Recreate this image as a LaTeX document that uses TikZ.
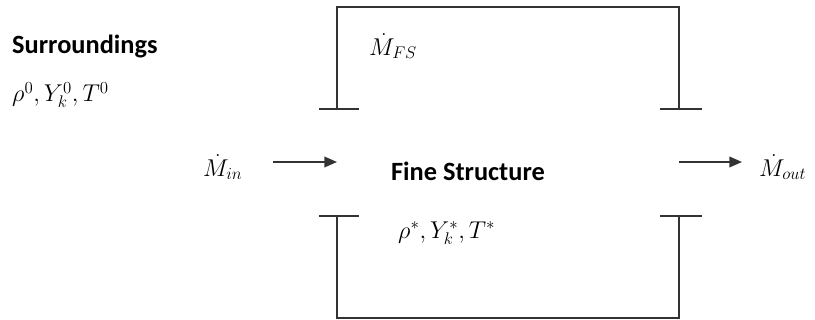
\documentclass[tikz,border=0pt]{standalone}
\usepackage{fontspec}
\setmainfont{Carlito}
\usetikzlibrary{positioning, arrows.meta}

\begin{document}
\begin{tikzpicture}[x=0.03cm, y=-0.03cm, >={Triangle[length=3.8mm, width=3.2mm]},
    label/.style={font=\fontsize{21}{25}\selectfont, inner sep=0pt},
    title/.style={font=\fontsize{22.5}{27}\selectfont\bfseries, inner sep=0pt},
    wall/.style={line width=1.1pt, black!80}]
    \useasboundingbox (0,0) rectangle (815,320);

    % Chamber walls (open at the ports)
    \coordinate (TL) at (337,7);
    \coordinate (TR) at (679,7);
    \coordinate (BL) at (337,318);
    \coordinate (BR) at (679,318);
    \coordinate (UL) at (337,109);
    \coordinate (UR) at (679,109);
    \coordinate (LL) at (337,216);
    \coordinate (LR) at (679,216);
    \draw[wall] (UL) -- (TL) -- (TR) -- (UR);
    \draw[wall] (LL) -- (BL) -- (BR) -- (LR);
    \draw[wall] ([xshift=-15]UL) -- ([xshift=19]UL);
    \draw[wall] ([xshift=-16]UR) -- ([xshift=20]UR);
    \draw[wall] ([xshift=-15]LL) -- ([xshift=19]LL);
    \draw[wall] ([xshift=-16]LR) -- ([xshift=20]LR);

    % Labels
    \node[title, anchor=west] (surr) at (12,46) {Surroundings};
    \node[label, anchor=west] (surrstate) at (12,95) {$\rho^0, Y_k^0, T^0$};
    \node[label, anchor=west] (mfs) at (369,46) {$\dot M_{FS}$};
    \node[title] (fs) at (468,171) {Fine Structure};
    \node[label, anchor=west] (fsstate) at (398,233) {$\rho^*, Y_k^*, T^*$};
    \node[label, anchor=west] (min) at (203,167) {$\dot M_{in}$};
    \node[label, anchor=west] (mout) at (759,167) {$\dot M_{out}$};

    % Mass flows
    \coordinate (instart) at (273,162);
    \coordinate (inend) at (337,162);
    \coordinate (outstart) at (679,162);
    \coordinate (outend) at (742,162);
    \draw[->, line width=1.4pt, black!80] (instart) -- (inend);
    \draw[->, line width=1.4pt, black!80] (outstart) -- (outend);
\end{tikzpicture}
\end{document}
